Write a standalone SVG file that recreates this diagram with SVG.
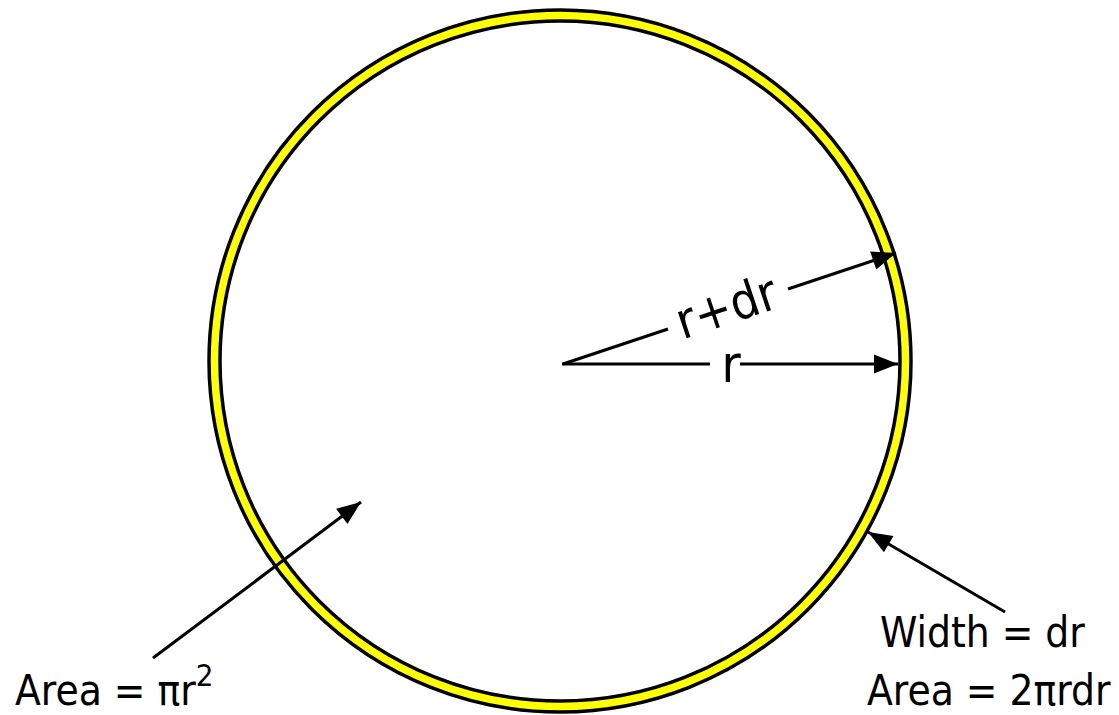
<svg xmlns="http://www.w3.org/2000/svg" width="1119" height="715" viewBox="0 0 1119 715">
<style>
.t{font-family:"DejaVu Sans Condensed","DejaVu Sans",sans-serif;font-stretch:condensed;fill:#000}
.ln{stroke:#000;stroke-width:3;fill:none}
</style>
<defs>
<marker id="ah" markerUnits="userSpaceOnUse" markerWidth="26" markerHeight="20" refX="24" refY="9.5" orient="auto" overflow="visible">
<path d="M0,0 L24,9.5 L0,19 Z" fill="#000"/>
</marker>
</defs>
<rect width="1119" height="715" fill="#fff"/>
<g id="ring">
<circle cx="560" cy="361" r="351" fill="#ffff00" stroke="#000" stroke-width="3.5"/>
<circle cx="560" cy="361" r="340" fill="#fff" stroke="#000" stroke-width="3.5"/>
</g>
<g id="connectors">
<line class="ln" x1="562" y1="364" x2="710" y2="364"/>
<line class="ln" x1="740" y1="364" x2="898" y2="364" marker-end="url(#ah)"/>
<line class="ln" x1="563" y1="364" x2="668" y2="329"/>
<line class="ln" x1="788" y1="289" x2="896" y2="253" marker-end="url(#ah)"/>
<line class="ln" x1="153" y1="658" x2="361" y2="502" marker-end="url(#ah)"/>
<line class="ln" x1="1005" y1="612" x2="868" y2="532" marker-end="url(#ah)"/>
</g>
<g id="label-r">
<text class="t" x="731" y="382" font-size="52" text-anchor="middle">r</text>
</g>
<g id="label-rdr">
<text class="t" transform="translate(727,309) rotate(-18.5)" x="0" y="15" font-size="50" text-anchor="middle">r+dr</text>
</g>
<g id="label-area-inner">
<text class="t" x="15" y="705" font-size="42">Area = πr<tspan font-size="31" dy="-19">2</tspan></text>
</g>
<g id="label-width">
<text class="t" x="880" y="647" font-size="42">Width = dr</text>
</g>
<g id="label-area-ring">
<text class="t" x="867" y="705" font-size="42">Area = 2πrdr</text>
</g>
</svg>
